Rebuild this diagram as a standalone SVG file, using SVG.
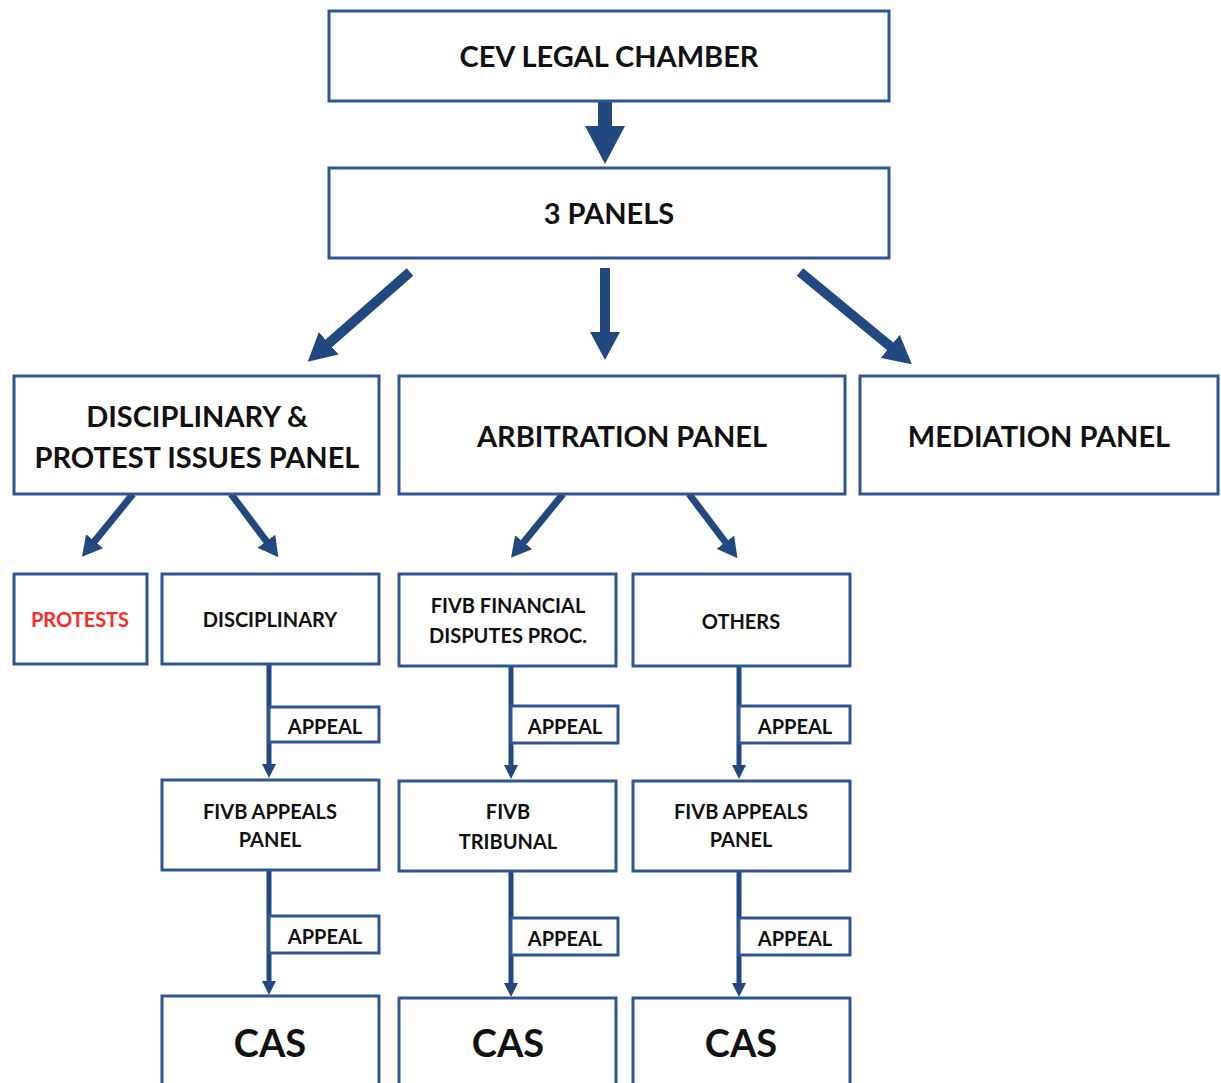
<svg xmlns="http://www.w3.org/2000/svg" width="1221" height="1083" viewBox="0 0 1221 1083">
<defs>
<marker id="h1" markerUnits="userSpaceOnUse" markerWidth="40" markerHeight="40" refX="1" refY="20" orient="auto"><path d="M0,0 L38,20 L0,40 z" fill="#22497F"/></marker>
<marker id="h2" markerUnits="userSpaceOnUse" markerWidth="30" markerHeight="30" refX="1" refY="15" orient="auto"><path d="M0,0 L28,15 L0,30 z" fill="#22497F"/></marker>
<marker id="h3" markerUnits="userSpaceOnUse" markerWidth="24" markerHeight="24" refX="1" refY="11" orient="auto"><path d="M0,0 L20,11 L0,22 z" fill="#22497F"/></marker>
<marker id="h4" markerUnits="userSpaceOnUse" markerWidth="16" markerHeight="16" refX="1" refY="7" orient="auto"><path d="M0,0 L14,7 L0,14 z" fill="#22497F"/></marker>
</defs>
<style>
.box{fill:#fff;stroke:#2E5692;stroke-width:3}
.t{font-family:Lato,"Open Sans",sans-serif;font-weight:bold;fill:#111;text-anchor:middle}
.big{font-size:29px}
.sm{font-size:20px}
.cas{font-size:38px}
.c{stroke:#22497F;fill:none}
</style>
<rect width="1221" height="1083" fill="#fff"/>
<g id="connectors">
<line class="c" x1="605" y1="101" x2="605" y2="127" stroke-width="14" marker-end="url(#h1)"/>
<line class="c" x1="410" y1="272" x2="328" y2="344" stroke-width="10" marker-end="url(#h2)"/>
<line class="c" x1="605" y1="268" x2="605" y2="333" stroke-width="10" marker-end="url(#h2)"/>
<line class="c" x1="800" y1="272" x2="891" y2="347" stroke-width="10" marker-end="url(#h2)"/>
<line class="c" x1="133" y1="494" x2="94" y2="542" stroke-width="7" marker-end="url(#h3)"/>
<line class="c" x1="231" y1="494" x2="267" y2="542" stroke-width="7" marker-end="url(#h3)"/>
<line class="c" x1="563" y1="494" x2="523" y2="543" stroke-width="7" marker-end="url(#h3)"/>
<line class="c" x1="689" y1="494" x2="726" y2="543" stroke-width="7" marker-end="url(#h3)"/>
<line class="c" x1="269" y1="664" x2="269" y2="765" stroke-width="5" marker-end="url(#h4)"/>
<line class="c" x1="269" y1="870" x2="269" y2="982" stroke-width="5" marker-end="url(#h4)"/>
<line class="c" x1="511" y1="666" x2="511" y2="766" stroke-width="5" marker-end="url(#h4)"/>
<line class="c" x1="511" y1="871" x2="511" y2="984" stroke-width="5" marker-end="url(#h4)"/>
<line class="c" x1="739" y1="666" x2="739" y2="766" stroke-width="5" marker-end="url(#h4)"/>
<line class="c" x1="739" y1="871" x2="739" y2="984" stroke-width="5" marker-end="url(#h4)"/>
</g>
<g id="n-cev"><rect class="box" x="329" y="11" width="560" height="90"/><text class="t big" x="609" y="67">CEV LEGAL CHAMBER</text></g>
<g id="n-3panels"><rect class="box" x="329" y="168" width="560" height="90"/><text class="t big" x="609" y="224">3 PANELS</text></g>
<g id="n-disc-protest"><rect class="box" x="14" y="376" width="365" height="118"/><text class="t big" x="197" y="427">DISCIPLINARY &amp;</text><text class="t big" x="197" y="468">PROTEST ISSUES PANEL</text></g>
<g id="n-arbitration"><rect class="box" x="399" y="376" width="446" height="118"/><text class="t big" x="622" y="447">ARBITRATION PANEL</text></g>
<g id="n-mediation"><rect class="box" x="860" y="376" width="358" height="118"/><text class="t big" x="1039" y="447">MEDIATION PANEL</text></g>
<g id="n-protests"><rect class="box" x="14" y="574" width="133" height="90"/><text class="t sm" x="80" y="627" style="fill:#FF2B2B">PROTESTS</text></g>
<g id="n-disciplinary"><rect class="box" x="162" y="574" width="217" height="90"/><text class="t sm" x="270" y="627">DISCIPLINARY</text></g>
<g id="n-fivb-fin"><rect class="box" x="399" y="574" width="217" height="92"/><text class="t sm" x="508" y="613">FIVB FINANCIAL</text><text class="t sm" x="508" y="643">DISPUTES PROC.</text></g>
<g id="n-others"><rect class="box" x="633" y="574" width="217" height="92"/><text class="t sm" x="741" y="629">OTHERS</text></g>
<g id="n-appeal1"><rect class="box" x="269" y="707" width="110" height="35"/><text class="t sm" x="325" y="734">APPEAL</text></g>
<g id="n-appeal2"><rect class="box" x="511" y="706" width="107" height="37"/><text class="t sm" x="565" y="734">APPEAL</text></g>
<g id="n-appeal3"><rect class="box" x="739" y="706" width="111" height="37"/><text class="t sm" x="795" y="734">APPEAL</text></g>
<g id="n-fivb-appeals1"><rect class="box" x="162" y="780" width="217" height="90"/><text class="t sm" x="270" y="819">FIVB APPEALS</text><text class="t sm" x="270" y="847">PANEL</text></g>
<g id="n-fivb-tribunal"><rect class="box" x="399" y="781" width="217" height="90"/><text class="t sm" x="508" y="819">FIVB</text><text class="t sm" x="508" y="849">TRIBUNAL</text></g>
<g id="n-fivb-appeals2"><rect class="box" x="633" y="781" width="217" height="90"/><text class="t sm" x="741" y="819">FIVB APPEALS</text><text class="t sm" x="741" y="847">PANEL</text></g>
<g id="n-appeal4"><rect class="box" x="269" y="916" width="110" height="37"/><text class="t sm" x="325" y="944">APPEAL</text></g>
<g id="n-appeal5"><rect class="box" x="511" y="918" width="107" height="37"/><text class="t sm" x="565" y="946">APPEAL</text></g>
<g id="n-appeal6"><rect class="box" x="739" y="918" width="111" height="37"/><text class="t sm" x="795" y="946">APPEAL</text></g>
<g id="n-cas1"><rect class="box" x="162" y="996" width="217" height="100"/><text class="t cas" x="270" y="1057">CAS</text></g>
<g id="n-cas2"><rect class="box" x="399" y="998" width="217" height="100"/><text class="t cas" x="508" y="1057">CAS</text></g>
<g id="n-cas3"><rect class="box" x="633" y="998" width="217" height="100"/><text class="t cas" x="741" y="1057">CAS</text></g>
</svg>
